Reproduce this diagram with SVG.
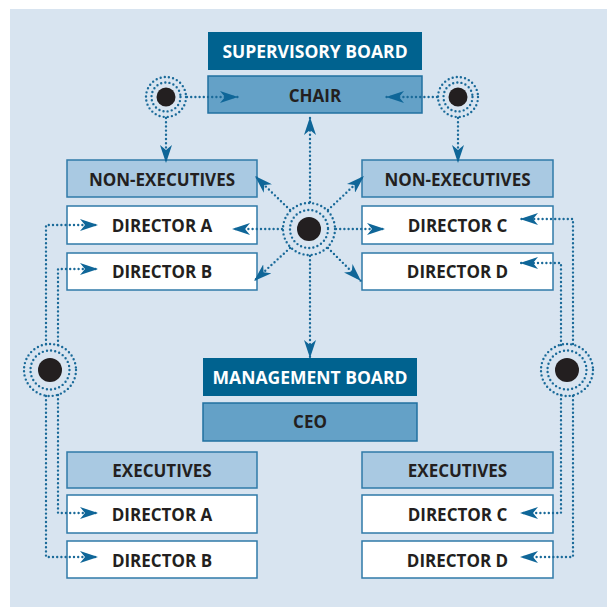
<svg xmlns="http://www.w3.org/2000/svg" width="607" height="607" viewBox="0 0 607 607">
<style>
.dark{fill:#00628f}
.mid{fill:#64a1c7;stroke:#2070a0;stroke-width:1.5}
.light{fill:#a9c9e2;stroke:#2f7aa8;stroke-width:1.5}
.white{fill:#ffffff;stroke:#2f7aa8;stroke-width:1.5}
text{font-family:"Open Sans","Noto Sans","Liberation Sans",sans-serif;font-weight:700;font-size:17px;text-anchor:middle;fill:#231f20}
text.inv{fill:#ffffff;font-size:17.5px}
.dot{fill:none;stroke:#1a6a99;stroke-width:2.4;stroke-linecap:round;stroke-dasharray:0 4.2}
.arr{marker-end:url(#ah)}
.core{fill:#231f20}
</style>
<defs>
<marker id="ah" markerUnits="userSpaceOnUse" markerWidth="18" markerHeight="12" refX="18" refY="6" orient="auto" viewBox="0 0 18 12">
<path d="M0,0 L18,6 L0,12 L5,6 Z" fill="#0f6698"/>
</marker>
</defs>
<rect x="10" y="9" width="597" height="598" fill="#d8e4f0"/>

<g id="supervisory-board"><rect class="dark" x="208" y="32" width="214" height="38"/><text class="inv" x="315" y="58">SUPERVISORY BOARD</text></g>
<g id="chair"><rect class="mid" x="208" y="76" width="214" height="37"/><text x="315" y="102">CHAIR</text></g>

<g id="nonexec-left"><rect class="light" x="67" y="160" width="190" height="37"/><text x="162" y="186">NON-EXECUTIVES</text></g>
<g id="ne-director-a"><rect class="white" x="67" y="206" width="190" height="38"/><text x="162" y="232">DIRECTOR A</text></g>
<g id="ne-director-b"><rect class="white" x="67" y="253" width="190" height="37"/><text x="162" y="278">DIRECTOR B</text></g>

<g id="nonexec-right"><rect class="light" x="362" y="160" width="191" height="37"/><text x="457.5" y="186">NON-EXECUTIVES</text></g>
<g id="ne-director-c"><rect class="white" x="362" y="206" width="191" height="38"/><text x="457.5" y="232">DIRECTOR C</text></g>
<g id="ne-director-d"><rect class="white" x="362" y="253" width="191" height="37"/><text x="457.5" y="278">DIRECTOR D</text></g>

<g id="management-board"><rect class="dark" x="203" y="358" width="214" height="38"/><text class="inv" x="310" y="384">MANAGEMENT BOARD</text></g>
<g id="ceo"><rect class="mid" x="203" y="403" width="214" height="38"/><text x="310" y="428">CEO</text></g>

<g id="exec-left"><rect class="light" x="67" y="452" width="190" height="36"/><text x="162" y="477">EXECUTIVES</text></g>
<g id="ex-director-a"><rect class="white" x="67" y="495" width="190" height="38"/><text x="162" y="521">DIRECTOR A</text></g>
<g id="ex-director-b"><rect class="white" x="67" y="541" width="190" height="37"/><text x="162" y="567">DIRECTOR B</text></g>

<g id="exec-right"><rect class="light" x="362" y="452" width="191" height="36"/><text x="457.5" y="477">EXECUTIVES</text></g>
<g id="ex-director-c"><rect class="white" x="362" y="495" width="191" height="38"/><text x="457.5" y="521">DIRECTOR C</text></g>
<g id="ex-director-d"><rect class="white" x="362" y="541" width="191" height="37"/><text x="457.5" y="567">DIRECTOR D</text></g>

<g id="hub-top-left"><circle class="dot" cx="166" cy="97" r="20"/><circle class="dot" cx="166" cy="97" r="14.5"/><circle class="core" cx="166" cy="97" r="9.5"/></g>
<g id="hub-top-right"><circle class="dot" cx="458" cy="97" r="20"/><circle class="dot" cx="458" cy="97" r="14.5"/><circle class="core" cx="458" cy="97" r="9.5"/></g>
<g id="hub-center"><circle class="dot" cx="309" cy="229" r="26"/><circle class="dot" cx="309" cy="229" r="19"/><circle class="core" cx="309" cy="229" r="12"/></g>
<g id="hub-left"><circle class="dot" cx="50" cy="370" r="26"/><circle class="dot" cx="50" cy="370" r="19.5"/><circle class="core" cx="50" cy="370" r="12"/></g>
<g id="hub-right"><circle class="dot" cx="567" cy="370" r="26"/><circle class="dot" cx="567" cy="370" r="19.5"/><circle class="core" cx="567" cy="370" r="12"/></g>

<g id="connectors">
<path class="dot arr" d="M187,97 H238"/>
<path class="dot arr" d="M166,118 V163"/>
<path class="dot arr" d="M437,97 H386"/>
<path class="dot arr" d="M458,118 V163"/>

<path class="dot arr" d="M310,202 V117"/>
<path class="dot arr" d="M310,256 V358"/>
<path class="dot arr" d="M282,229 H232"/>
<path class="dot arr" d="M336,229 H385"/>
<path class="dot arr" d="M290,210 L255,176"/>
<path class="dot arr" d="M328,210 L364,176"/>
<path class="dot arr" d="M290,248 L254,281"/>
<path class="dot arr" d="M328,248 L361,281"/>

<path class="dot arr" d="M46,344 V225 H98"/>
<path class="dot arr" d="M58,345 V269 H98"/>
<path class="dot arr" d="M58,395 V513 H98"/>
<path class="dot arr" d="M46,396 V557 H98"/>

<path class="dot arr" d="M573,344 V219 H520"/>
<path class="dot arr" d="M561,345 V263 H520"/>
<path class="dot arr" d="M561,395 V513 H520"/>
<path class="dot arr" d="M573,396 V557 H520"/>
</g>
</svg>
